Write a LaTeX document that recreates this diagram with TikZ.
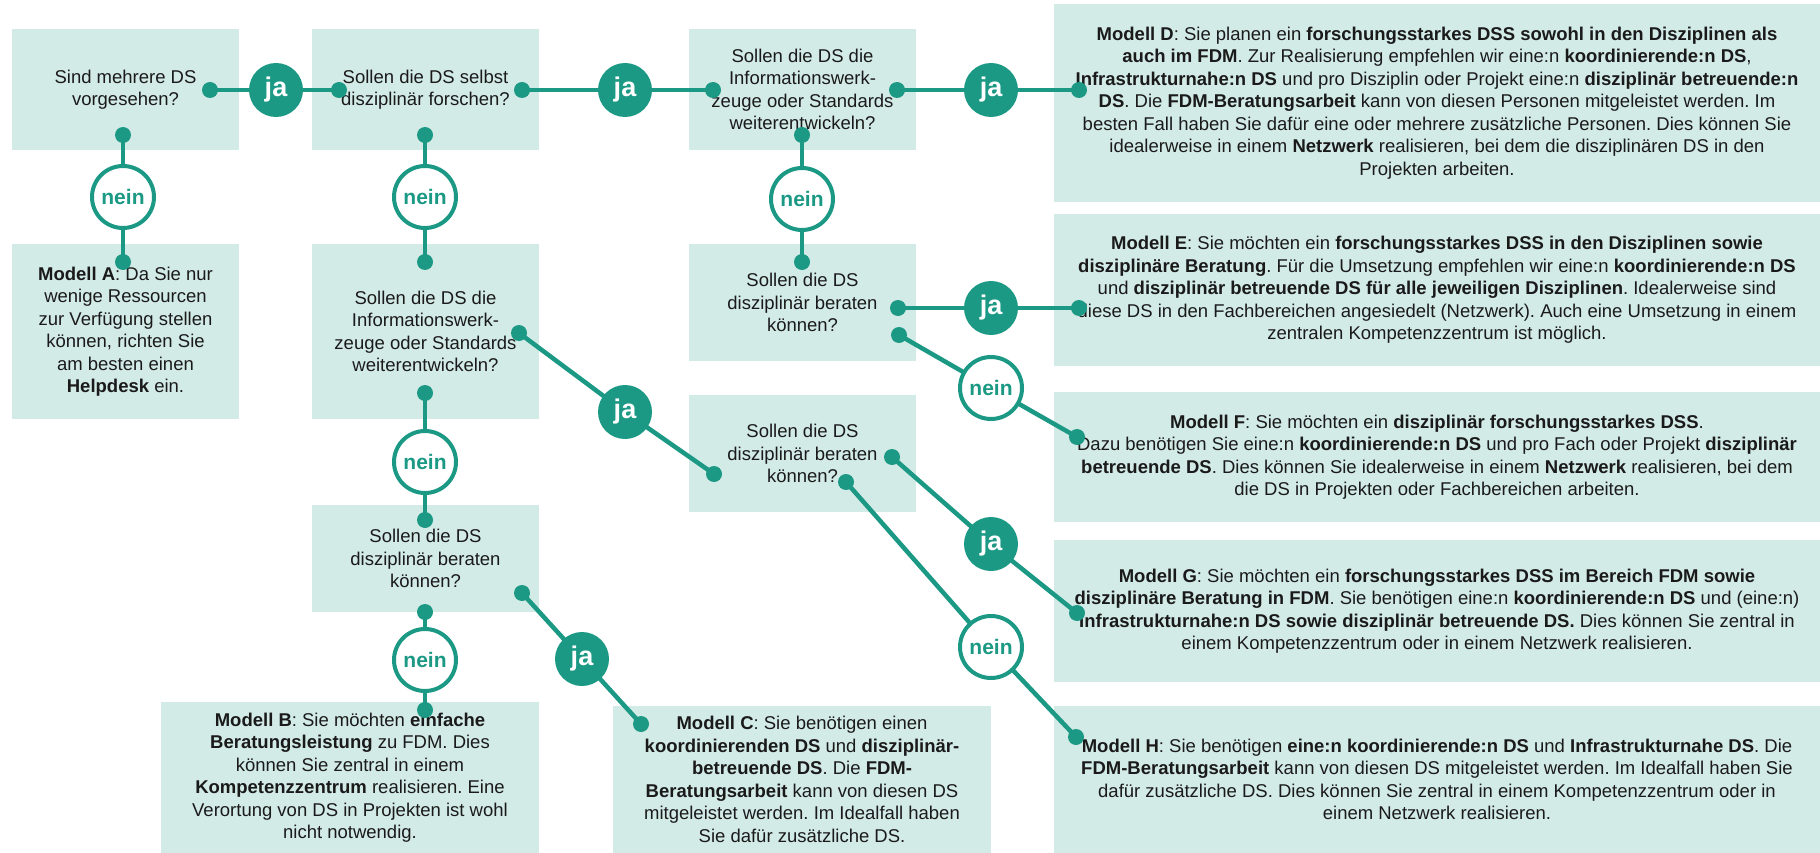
\documentclass[tikz,border=0pt]{standalone}
\usepackage{fontspec}
\setmainfont{Liberation Sans}
\frenchspacing
\definecolor{teal1}{HTML}{1B9984}
\definecolor{boxc}{HTML}{D3EBE6}
\definecolor{txt}{HTML}{1A1A1A}
\newcommand\qfont{\fontsize{18.5}{22.5}\selectfont}
\newcommand\jafont{\fontsize{27}{27}\selectfont\bfseries}
\newcommand\neinfont{\fontsize{21}{21}\selectfont\bfseries}
\pgfdeclarelayer{boxlayer}
\pgfdeclarelayer{linelayer}
\pgfsetlayers{boxlayer,linelayer,main}
\tikzset{
  box/.style={rectangle, fill=boxc, inner sep=0pt, align=center, text=txt, font=\qfont},
  dotn/.style={circle, fill=teal1, inner sep=0pt, minimum size=16pt},
  jac/.style={circle, fill=teal1, inner sep=0pt, minimum size=54pt, text=white, font=\jafont},
  neinc/.style={circle, draw=teal1, line width=4pt, fill=white, inner sep=0pt, minimum size=62pt, text=teal1, font=\neinfont},
  conn/.style={draw=teal1, line width=4.5pt},
}
\begin{document}
\begin{tikzpicture}[x=1pt,y=-1pt]
\useasboundingbox (0,0) rectangle (1820,853);
\begin{pgfonlayer}{boxlayer}
\node[box, minimum width=227pt, minimum height=121pt] (q1) at (125.5,89.5) {Sind mehrere DS\\vorgesehen?};
\node[box, minimum width=227pt, minimum height=121pt] (q2) at (425.5,89.5) {Sollen die DS selbst\\disziplinär forschen?};
\node[box, minimum width=227pt, minimum height=121pt] (q3) at (802.5,89.5) {Sollen die DS die\\Informationswerk-\\zeuge oder Standards\\weiterentwickeln?};
\node[box, minimum width=227pt, minimum height=175pt] (ma) at (125.5,331.5) {\textbf{Modell A}: Da Sie nur\\wenige Ressourcen\\zur Verfügung stellen\\können, richten Sie\\am besten einen\\\textbf{Helpdesk} ein.};
\node[box, minimum width=227pt, minimum height=175pt] (q4) at (425.5,331.5) {Sollen die DS die\\Informationswerk-\\zeuge oder Standards\\weiterentwickeln?};
\node[box, minimum width=227pt, minimum height=117pt] (q5) at (802.5,302.5) {Sollen die DS\\disziplinär beraten\\können?};
\node[box, minimum width=227pt, minimum height=107pt] (q6) at (425.5,558.5) {Sollen die DS\\disziplinär beraten\\können?};
\node[box, minimum width=227pt, minimum height=117pt] (q7) at (802.5,453.5) {Sollen die DS\\disziplinär beraten\\können?};
\node[box, minimum width=378pt, minimum height=151pt] (mb) at (350,777.5) {\textbf{Modell B}: Sie möchten \textbf{einfache}\\\textbf{Beratungsleistung} zu FDM. Dies\\können Sie zentral in einem\\\textbf{Kompetenzzentrum} realisieren. Eine\\Verortung von DS in Projekten ist wohl\\nicht notwendig.};
\node[box, minimum width=378pt, minimum height=147pt] (mc) at (802,779.5) {\textbf{Modell C}: Sie benötigen einen\\\textbf{koordinierenden DS} und \textbf{disziplinär-}\\\textbf{betreuende DS}. Die \textbf{FDM-}\\\textbf{Beratungsarbeit} kann von diesen DS\\mitgeleistet werden. Im Idealfall haben\\Sie dafür zusätzliche DS.};
\node[box, minimum width=766pt, minimum height=198pt] (md) at (1437,103) {\textbf{Modell D}: Sie planen ein \textbf{forschungsstarkes DSS sowohl in den Disziplinen als}\\\textbf{auch im FDM}. Zur Realisierung empfehlen wir eine:n \textbf{koordinierende:n DS},\\\textbf{Infrastrukturnahe:n DS} und pro Disziplin oder Projekt eine:n \textbf{disziplinär betreuende:n}\\\textbf{DS}. Die \textbf{FDM-Beratungsarbeit} kann von diesen Personen mitgeleistet werden. Im\\besten Fall haben Sie dafür eine oder mehrere zusätzliche Personen. Dies können Sie\\idealerweise in einem \textbf{Netzwerk} realisieren, bei dem die disziplinären DS in den\\Projekten arbeiten.};
\node[box, minimum width=766pt, minimum height=152pt] (me) at (1437,290) {\textbf{Modell E}: Sie möchten ein \textbf{forschungsstarkes DSS in den Disziplinen sowie}\\\textbf{disziplinäre Beratung}. Für die Umsetzung empfehlen wir eine:n \textbf{koordinierende:n DS}\\und \textbf{disziplinär betreuende DS für alle jeweiligen Disziplinen}. Idealerweise sind\\diese DS in den Fachbereichen angesiedelt (Netzwerk). Auch eine Umsetzung in einem\\zentralen Kompetenzzentrum ist möglich.};
\node[box, minimum width=766pt, minimum height=130pt] (mf) at (1437,457) {\textbf{Modell F}: Sie möchten ein \textbf{disziplinär forschungsstarkes DSS}.\\Dazu benötigen Sie eine:n \textbf{koordinierende:n DS} und pro Fach oder Projekt \textbf{disziplinär}\\\textbf{betreuende DS}. Dies können Sie idealerweise in einem \textbf{Netzwerk} realisieren, bei dem\\die DS in Projekten oder Fachbereichen arbeiten.};
\node[box, minimum width=766pt, minimum height=142pt] (mg) at (1437,611) {\textbf{Modell G}: Sie möchten ein \textbf{forschungsstarkes DSS im Bereich FDM sowie}\\\textbf{disziplinäre Beratung in FDM}. Sie benötigen eine:n \textbf{koordinierende:n DS} und (eine:n)\\\textbf{Infrastrukturnahe:n DS sowie disziplinär betreuende DS.} Dies können Sie zentral in\\einem Kompetenzzentrum oder in einem Netzwerk realisieren.};
\node[box, minimum width=766pt, minimum height=147pt] (mh) at (1437,779.5) {\textbf{Modell H}: Sie benötigen \textbf{eine:n koordinierende:n DS} und \textbf{Infrastrukturnahe DS}. Die\\\textbf{FDM-Beratungsarbeit} kann von diesen DS mitgeleistet werden. Im Idealfall haben Sie\\dafür zusätzliche DS. Dies können Sie zentral in einem Kompetenzzentrum oder in\\einem Netzwerk realisieren.};
\end{pgfonlayer}
% dots
\node[dotn] (q1r) at (210,90) {};
\node[dotn] (q2l) at (339,90) {};
\node[dotn] (q2r) at (522,90) {};
\node[dotn] (q3l) at (713,90) {};
\node[dotn] (q3r) at (897,90) {};
\node[dotn] (mdl) at (1079,90) {};
\node[dotn] (q1b) at (123,135) {};
\node[dotn] (mat) at (123,262) {};
\node[dotn] (q2b) at (425,135) {};
\node[dotn] (q4t) at (425,262) {};
\node[dotn] (q3b) at (802,135) {};
\node[dotn] (q5t) at (802,262) {};
\node[dotn] (q5r) at (898,308) {};
\node[dotn] (mel) at (1079,308) {};
\node[dotn] (q5d) at (899,335) {};
\node[dotn] (mfl) at (1077,437) {};
\node[dotn] (q4r) at (519,333) {};
\node[dotn] (q7l) at (714,474) {};
\node[dotn] (q4b) at (425,393) {};
\node[dotn] (q6t) at (425,520) {};
\node[dotn] (q6r) at (522,593) {};
\node[dotn] (mcl) at (641,724) {};
\node[dotn] (q6b) at (425,612) {};
\node[dotn] (mbt) at (425,710) {};
\node[dotn] (q7r) at (892,457) {};
\node[dotn] (mgl) at (1077,613) {};
\node[dotn] (q7d) at (846,482) {};
\node[dotn] (mhl) at (1076,737) {};
% circles
\node[jac] (ja1) at (276,90) {ja};
\node[jac] (ja2) at (625,90) {ja};
\node[jac] (ja3) at (991,90) {ja};
\node[neinc] (n1) at (123,197) {nein};
\node[neinc] (n2) at (425,197) {nein};
\node[neinc] (n3) at (802,199) {nein};
\node[jac] (ja4) at (991,308) {ja};
\node[neinc] (n4) at (991,388) {nein};
\node[jac] (ja5) at (625,412) {ja};
\node[neinc] (n5) at (425,462) {nein};
\node[jac] (ja6) at (582,659) {ja};
\node[neinc] (n6) at (425,660) {nein};
\node[jac] (ja7) at (991,544) {ja};
\node[neinc] (n7) at (991,647) {nein};
\begin{pgfonlayer}{linelayer}
\draw[conn] (q1r.center) -- (ja1.center) -- (q2l.center);
\draw[conn] (q2r.center) -- (ja2.center) -- (q3l.center);
\draw[conn] (q3r.center) -- (ja3.center) -- (mdl.center);
\draw[conn] (q1b.center) -- (n1.center) -- (mat.center);
\draw[conn] (q2b.center) -- (n2.center) -- (q4t.center);
\draw[conn] (q3b.center) -- (n3.center) -- (q5t.center);
\draw[conn] (q5r.center) -- (ja4.center) -- (mel.center);
\draw[conn] (q5d.center) -- (n4.center) -- (mfl.center);
\draw[conn] (q4r.center) -- (ja5.center) -- (q7l.center);
\draw[conn] (q4b.center) -- (n5.center) -- (q6t.center);
\draw[conn] (q6r.center) -- (ja6.center) -- (mcl.center);
\draw[conn] (q6b.center) -- (n6.center) -- (mbt.center);
\draw[conn] (q7r.center) -- (ja7.center) -- (mgl.center);
\draw[conn] (q7d.center) -- (n7.center) -- (mhl.center);
\end{pgfonlayer}
\end{tikzpicture}
\end{document}
